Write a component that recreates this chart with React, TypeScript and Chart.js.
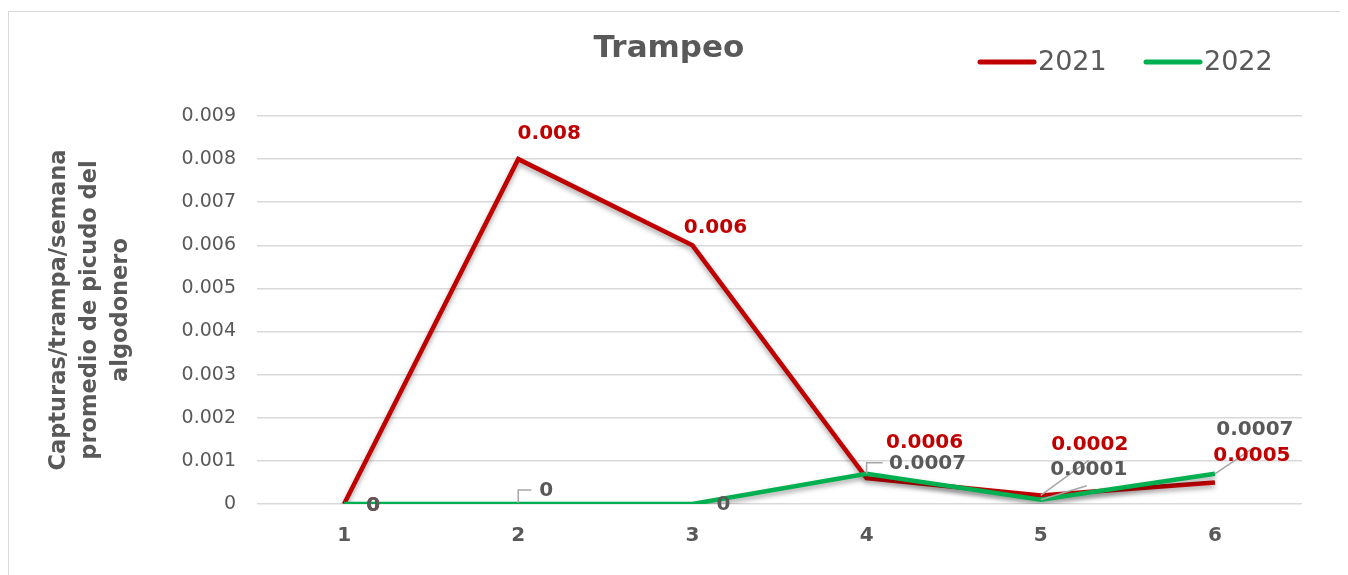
import React, { useEffect, useRef } from "react";
import { Chart, registerables } from "chart.js";

Chart.register(...registerables);

const categories = ["1", "2", "3", "4", "5", "6"];
const series2021 = [0, 0.008, 0.006, 0.0006, 0.0002, 0.0005];
const series2022 = [0, 0, 0, 0.0007, 0.0001, 0.0007];
const yTickLabels = ["0", "0.001", "0.002", "0.003", "0.004", "0.005", "0.006", "0.007", "0.008", "0.009"];
const seriesNames = ["2021", "2022"];
const titleText = "Trampeo";
const yTitle = ["Capturas/trampa/semana", "promedio de picudo del", "algodonero"];

const RED = "#C00000";
const GREEN = "#00B050";
const GREY = "#595959";
const FONT = "'DejaVu Sans', sans-serif";

// label placement (pixel offsets from the point), styling only
const labelOffsets = [
  [[29, 2], [31, -25], [23, -18], [58, -35], [49, -51], [37, -27]],
  [[29, 2], [28, -13], [31, 1], [61, -10], [48, -30], [40, -44]],
];
const leaders: Array<Array<Array<Array<number>>>> = [
  [[], [], [], [], [[0, 0], [48, -35]], []],
  [[], [[0, -1], [0, -14], [13, -14]], [], [[0, 0], [0, -11], [16, -11]], [[0, 0], [46, -14]], [[0, 0], [40, -27]]],
];
const labelColors = [RED, GREY];

const overlayPlugin = {
  id: "overlay",
  beforeDatasetsDraw(chart: any) {
    const ctx = chart.ctx;
    ctx.save();
    ctx.shadowColor = "rgba(0,0,0,0.35)";
    ctx.shadowBlur = 5;
    ctx.shadowOffsetY = 3;
  },
  afterDatasetsDraw(chart: any) {
    const ctx = chart.ctx;
    ctx.restore();
    ctx.save();
    ctx.strokeStyle = "#a6a6a6";
    ctx.lineWidth = 1.5;
    chart.data.datasets.forEach((ds: any, di: number) => {
      const meta = chart.getDatasetMeta(di);
      meta.data.forEach((pt: any, i: number) => {
        const l = leaders[di][i];
        if (!l || l.length < 2) return;
        ctx.beginPath();
        l.forEach((p, k) => {
          const x = pt.x + p[0];
          const y = pt.y + p[1];
          if (k === 0) ctx.moveTo(x, y);
          else ctx.lineTo(x, y);
        });
        ctx.stroke();
      });
    });
    ctx.font = `bold 20px ${FONT}`;
    ctx.textAlign = "center";
    ctx.textBaseline = "middle";
    chart.data.datasets.forEach((ds: any, di: number) => {
      const meta = chart.getDatasetMeta(di);
      ctx.fillStyle = labelColors[di];
      meta.data.forEach((pt: any, i: number) => {
        const off = labelOffsets[di][i];
        ctx.fillText(String(ds.data[i]), pt.x + off[0], pt.y + off[1]);
      });
    });
    ctx.restore();
  },
  afterDraw(chart: any) {
    const ctx = chart.ctx;
    ctx.save();
    ctx.fillStyle = GREY;
    ctx.textBaseline = "middle";
    ctx.textAlign = "center";
    ctx.font = `bold 31px ${FONT}`;
    ctx.fillText(titleText, 660, 37);
    const items = [
      { x: 971, color: RED, name: seriesNames[0] },
      { x: 1137, color: GREEN, name: seriesNames[1] },
    ];
    ctx.font = `27px ${FONT}`;
    ctx.textAlign = "left";
    items.forEach((it) => {
      ctx.strokeStyle = it.color;
      ctx.lineWidth = 5;
      ctx.lineCap = "round";
      ctx.beginPath();
      ctx.moveTo(it.x, 50);
      ctx.lineTo(it.x + 54, 50);
      ctx.stroke();
      ctx.fillStyle = GREY;
      ctx.fillText(it.name, it.x + 58, 51);
    });
    ctx.restore();
  },
};

export default function App() {
  const ref = useRef<HTMLCanvasElement | null>(null);
  useEffect(() => {
    if (!ref.current) return;
    const chart = new Chart(ref.current, {
      type: "line",
      data: {
        labels: categories,
        datasets: [
          {
            label: seriesNames[0],
            data: series2021,
            borderColor: RED,
            backgroundColor: RED,
            borderWidth: 4.5,
            pointRadius: 0,
            tension: 0,
            order: 1,
          },
          {
            label: seriesNames[1],
            data: series2022,
            borderColor: GREEN,
            backgroundColor: GREEN,
            borderWidth: 4.5,
            pointRadius: 0,
            tension: 0,
            order: 0,
          },
        ],
      },
      options: {
        responsive: false,
        animation: false,
        layout: { padding: { top: 104, right: 37, left: 0, bottom: 0 } },
        plugins: {
          legend: { display: false },
          title: { display: false },
          tooltip: { enabled: false },
        },
        scales: {
          x: {
            offset: true,
            grid: { display: false, drawTicks: false },
            border: { display: false },
            ticks: {
              color: GREY,
              font: { family: FONT, size: 20, weight: "bold" },
              padding: 20,
            },
            afterFit: (s: any) => {
              s.height = 70;
            },
          },
          y: {
            min: 0,
            max: 0.009,
            ticks: {
              stepSize: 0.001,
              color: GREY,
              padding: 21,
              font: { family: FONT, size: 19 },
              callback: (_v: any, i: number) => yTickLabels[i],
            },
            grid: { color: "#d9d9d9", lineWidth: 1.5, drawTicks: false },
            border: { display: false },
            title: {
              display: true,
              text: yTitle,
              color: GREY,
              font: { family: FONT, size: 22.5, weight: "bold", lineHeight: "31px" },
              padding: { top: 35, bottom: 0 },
            },
            afterFit: (s: any) => {
              s.width = 248;
            },
          },
        },
      },
      plugins: [overlayPlugin],
    });
    return () => chart.destroy();
  }, []);
  return (
    <div
      style={{
        marginTop: 3,
        width: 1338,
        height: 570,
        borderTop: "1px solid #d9d9d9",
        borderLeft: "1px solid #d9d9d9",
        background: "#fff",
        overflow: "hidden",
      }}
    >
      <canvas ref={ref} width={1330} height={562} style={{ display: "block" }} />
    </div>
  );
}
